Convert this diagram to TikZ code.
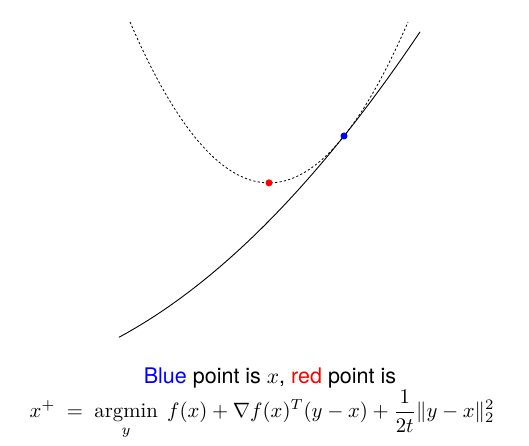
\documentclass[tikz,border=0pt]{standalone}
\usepackage{amsmath,amssymb}
\usepackage{fontspec}
\setsansfont{TeX Gyre Heros}
\usepackage{tikz}
\usetikzlibrary{calc}

\begin{document}
\begin{tikzpicture}[
    x=1pt,
    y=1pt,
    model/.style={
        draw=black,
        line width=0.8pt,
        dash pattern=on 2.2pt off 2.2pt
    },
    func/.style={
        draw=black,
        line width=0.9pt
    },
    dot/.style={
        circle,
        inner sep=0pt,
        minimum size=7pt
    },
    caption/.style={
        font=\sffamily,
        inner sep=0pt,
        scale=2.15,
        transform shape
    },
    formula/.style={
        inner sep=0pt,
        scale=2.075,
        transform shape
    }
]

\useasboundingbox (0,0) rectangle (529,446);

% =====================================================
% Curves
% =====================================================

\draw[func] plot[domain=119:420, samples=80, smooth]
  (\x, {310 + 1.25*(\x-344) + 0.158*((\x-344)/10)^2});

\draw[model] plot[domain=130:408, samples=80, smooth]
  (\x, {263.1 + 0.833*((\x-269)/10)^2});

% =====================================================
% Points
% =====================================================

\node[dot, fill=blue] (blue) at (344,310) {};
\node[dot, fill=red] (red) at (269,263.1) {};

% =====================================================
% Text
% =====================================================

\node[caption] (line1) at (270,68)
  {\textcolor{blue}{Blue} point is $x$, \textcolor{red}{red} point is};

\node[formula, anchor=north] (line2) at (262,56)
  {$\displaystyle x^+ \;=\; \operatorname*{argmin}_y \; f(x) + \nabla f(x)^T (y-x) + \frac{1}{2t}\|y-x\|_2^2$};

\end{tikzpicture}
\end{document}
